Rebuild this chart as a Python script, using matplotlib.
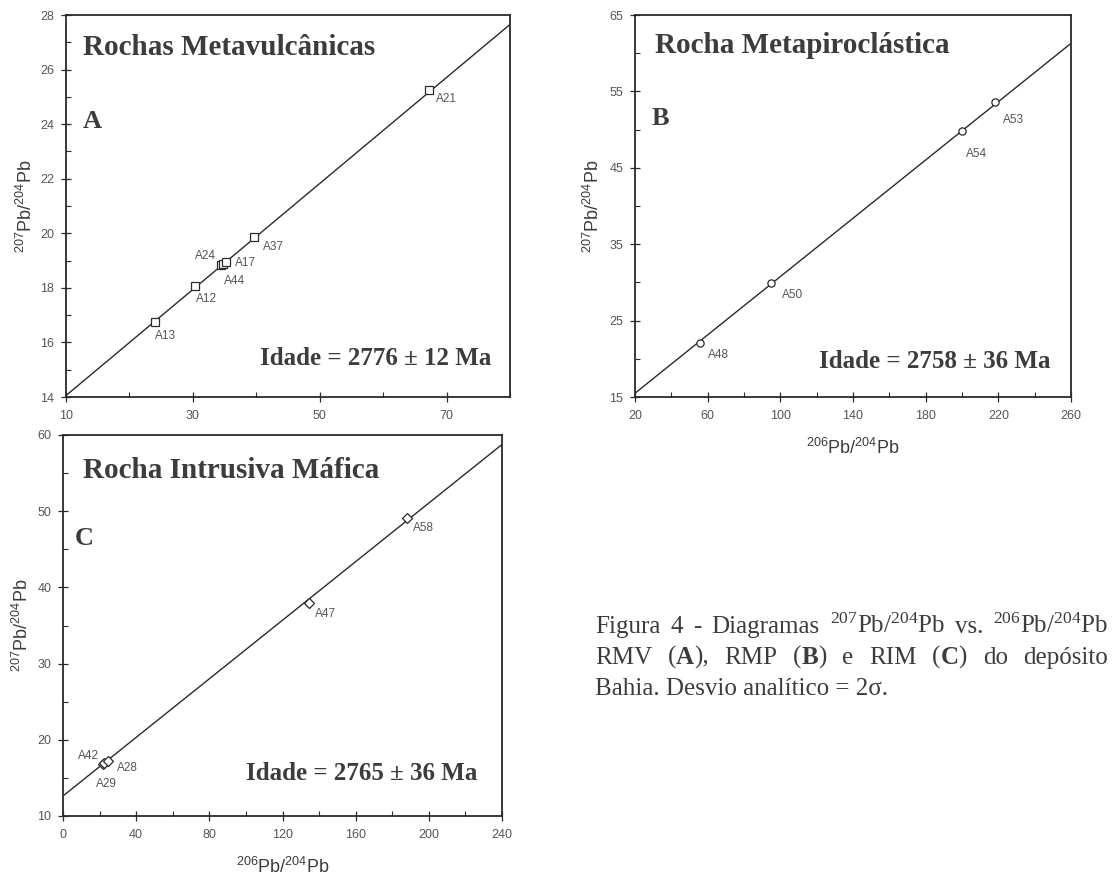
import matplotlib
matplotlib.use("Agg")
import matplotlib.pyplot as plt
import numpy as np

plt.rcParams['mathtext.fontset'] = 'custom'
plt.rcParams['mathtext.rm'] = 'Liberation Serif'
plt.rcParams['mathtext.sf'] = 'Liberation Sans'
plt.rcParams['font.family'] = 'Liberation Sans'

# --- dados (206Pb/204Pb, 207Pb/204Pb) ---
names_a = ['A13', 'A12', 'A24', 'A44', 'A17', 'A37', 'A21']
x_a = [24.0, 30.3, 34.4, 34.7, 35.2, 39.7, 67.2]
y_a = [16.75, 18.05, 18.82, 18.86, 18.95, 19.88, 25.25]
iso_a = (0.1943, 12.11)   # inclinação, intercepto
idade_a = 'Idade = 2776 ± 12 Ma'

names_b = ['A48', 'A50', 'A54', 'A53']
x_b = [55.8, 94.9, 199.8, 218.3]
y_b = [22.1, 29.9, 49.85, 53.56]
iso_b = (0.1908, 11.68)
idade_b = 'Idade = 2758 ± 36 Ma'

names_c = ['A42', 'A29', 'A28', 'A47', 'A58']
x_c = [22.0, 22.4, 24.6, 134.7, 188.3]
y_c = [16.8, 16.9, 17.22, 37.98, 49.14]
iso_c = (0.1922, 12.63)
idade_c = 'Idade = 2765 ± 36 Ma'

# deslocamento dos rótulos (px) e alinhamento
lab_a = {'A13': (0, 14, 'left'), 'A12': (1, 13, 'left'), 'A24': (-5, -9, 'right'),
         'A44': (1, 17, 'left'), 'A17': (9, 1, 'left'), 'A37': (9, 10, 'left'),
         'A21': (7, 9, 'left')}
lab_b = {'A48': (8, 12, 'left'), 'A50': (11, 12, 'left'), 'A54': (4, 23, 'left'),
         'A53': (8, 18, 'left')}
lab_c = {'A42': (-4, -8, 'right'), 'A29': (2, 21, 'center'), 'A28': (9, 7, 'left'),
         'A47': (6, 11, 'left'), 'A58': (6, 10, 'left')}

W, H = 1117, 875
fig = plt.figure(figsize=(W / 100, H / 100), dpi=100)
PX = 72 / 100.0

TXT = '#3c3c3c'
TICK = '#555555'
LINE = '#2a2a2a'
ylab = r'$\mathsf{{}^{207}Pb/{}^{204}Pb}$'
xlab = r'$\mathsf{{}^{206}Pb/{}^{204}Pb}$'


def make_axes(l, r, t, b):
    return fig.add_axes([l / W, 1 - b / H, (r - l) / W, (b - t) / H])


def panel(ax, xs, ys, names, labs, iso, marker, ms, xlim, ylim, xmaj, xmin, ymaj, ymin,
          title, letter, idade, pos):
    ax.set_xlim(*xlim)
    ax.set_ylim(*ylim)
    xx = np.array(xlim)
    ax.plot(xx, iso[0] * xx + iso[1], color=LINE, lw=1.0, zorder=2)
    ax.plot(xs, ys, ls='none', marker=marker, ms=ms, mfc='white', mec=LINE, mew=0.9, zorder=3)
    for n, x, y in zip(names, xs, ys):
        dx, dy, ha = labs[n]
        ax.annotate(n, (x, y), xytext=(dx * PX, -dy * PX), textcoords='offset points',
                    ha=ha, va='center', fontsize=8.5, color=TICK)
    ax.set_xticks(np.arange(xlim[0], xlim[1] + 0.1, xmaj))
    ax.set_xticks(np.arange(xlim[0] + xmin, xlim[1] + 0.1, xmaj), minor=True)
    ax.set_yticks(np.arange(ylim[0], ylim[1] + 0.1, ymaj))
    ax.set_yticks(np.arange(ylim[0] + ymin, ylim[1] + 0.1, ymaj), minor=True)
    ax.tick_params(which='major', direction='inout', length=7, width=0.9, colors=LINE,
                   labelcolor=TICK, labelsize=9)
    ax.tick_params(axis='x', which='major', pad=6)
    ax.tick_params(axis='y', which='major', pad=5)
    ax.tick_params(which='minor', direction='in', length=3.5, width=0.8, colors=LINE)
    for s in ax.spines.values():
        s.set_linewidth(1.3)
        s.set_color(LINE)
    ax.set_ylabel(ylab, fontsize=13, color=TXT)
    tx, ty, lx, ly, ix, iy = pos
    ax.text(tx, ty, title, transform=ax.transAxes, family='Liberation Serif',
            weight='bold', fontsize=21, color=TXT, va='baseline')
    ax.text(lx, ly, letter, transform=ax.transAxes, family='Liberation Serif',
            weight='bold', fontsize=19, color=TXT, va='baseline')
    ax.text(ix, iy, idade, transform=ax.transAxes, family='Liberation Serif',
            weight='bold', fontsize=18, color=TXT, va='baseline', ha='right')


ax_a = make_axes(66, 510, 15, 397)
panel(ax_a, x_a, y_a, names_a, lab_a, iso_a, 's', 5.6, (10, 80), (14, 28), 20, 10, 2, 1,
      'Rochas Metavulcânicas', 'A', idade_a, (0.038, 0.895, 0.038, 0.704, 0.959, 0.084))
ax_a.yaxis.set_label_coords(-0.068, 0.5)

ax_b = make_axes(635, 1071, 15, 397)
panel(ax_b, x_b, y_b, names_b, lab_b, iso_b, 'o', 5.2, (20, 260), (15, 65), 40, 20, 10, 5,
      'Rocha Metapiroclástica', 'B', idade_b, (0.046, 0.9, 0.039, 0.712, 0.952, 0.076))
ax_b.set_xlabel(xlab, fontsize=13, color=TXT, labelpad=11)
ax_b.yaxis.set_label_coords(-0.073, 0.5)

ax_c = make_axes(63, 502, 435, 816)
panel(ax_c, x_c, y_c, names_c, lab_c, iso_c, 'D', 5.0, (0, 240), (10, 60), 40, 20, 10, 5,
      'Rocha Intrusiva Máfica', 'C', idade_c, (0.046, 0.887, 0.027, 0.711, 0.943, 0.094))
ax_c.set_xlabel(xlab, fontsize=13, color=TXT, labelpad=11)
ax_c.yaxis.set_label_coords(-0.071, 0.5)

# --- legenda (texto justificado) ---
cap1 = [[('Figura', 0)], [('4', 0)], [('-', 0)], [('Diagramas', 0)],
        [(r'$\mathrm{{}^{207}Pb/{}^{204}Pb}$', 0)], [('vs.', 0)],
        [(r'$\mathrm{{}^{206}Pb/{}^{204}Pb}$', 0)]]
cap2 = [[('RMV', 0)], [('(', 0), ('A', 1), ('),', 0)], [('RMP', 0)],
        [('(', 0), ('B', 1), (')', 0)], [('e', 0)], [('RIM', 0)],
        [('(', 0), ('C', 1), (')', 0)], [('do', 0)], [('depósito', 0)]]
cap3 = 'Bahia. Desvio analítico = 2σ.'

CAP_FS = 18
rend = fig.canvas.get_renderer()


def seg_width(s, bold):
    t = fig.text(0, 0, s, fontsize=CAP_FS, family='Liberation Serif',
                 weight='bold' if bold else 'normal')
    w = t.get_window_extent(rend).width
    t.remove()
    return w


def justified(words, x0, x1, ybase):
    widths = [[seg_width(s, b) for s, b in w] for w in words]
    total = sum(sum(w) for w in widths)
    gap = (x1 - x0 - total) / (len(words) - 1)
    x = x0
    for word, ws in zip(words, widths):
        for (s, b), w in zip(word, ws):
            fig.text(x / W, 1 - ybase / H, s, fontsize=CAP_FS, family='Liberation Serif',
                     weight='bold' if b else 'normal', color=TXT, va='baseline')
            x += w
        x += gap


justified(cap1, 595, 1108, 633)
justified(cap2, 595, 1108, 664)
fig.text(595 / W, 1 - 695 / H, cap3, fontsize=CAP_FS, family='Liberation Serif',
         color=TXT, va='baseline')

fig.savefig('out.png', dpi=100)
